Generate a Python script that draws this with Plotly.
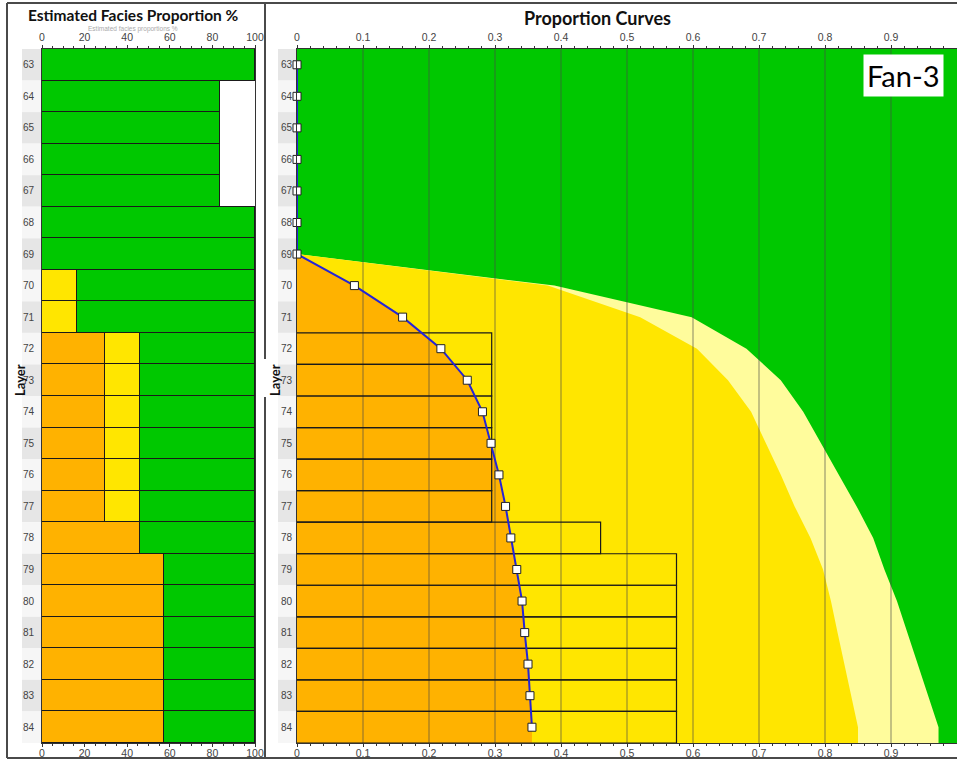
import plotly.graph_objects as go

W, H = 957, 761

# ---------------- data ----------------
layers = list(range(63, 85))
layer_labels = [str(l) for l in layers]

# Left panel: estimated facies proportion (%) per layer
est_orange = [0]*9 + [29.5]*6 + [46.0] + [57.5]*6
est_yellow = [0]*7 + [16.2, 16.2] + [16.4]*6 + [0] + [0]*6
est_green = [100] + [83.5]*4 + [100, 100] + [83.8, 83.8] + [54.1]*6 + [54.0] + [42.5]*6

# Right panel: proportion curves (cumulative fractions)
curve_orange = [0]*7 + [0.087, 0.160, 0.218, 0.258, 0.281, 0.294, 0.306, 0.316,
                        0.324, 0.333, 0.341, 0.345, 0.350, 0.353, 0.356]
curve_orange_yellow = [0]*7 + [0.38, 0.52, 0.606, 0.653, 0.688, 0.711, 0.733, 0.754,
                               0.778, 0.797, 0.809, 0.819, 0.829, 0.840, 0.850]
curve_orange_yellow_pale = [0]*7 + [0.39, 0.598, 0.681, 0.733, 0.767, 0.794, 0.821, 0.848,
                                    0.873, 0.890, 0.909, 0.925, 0.940, 0.956, 0.972]
curve_all = [1.0]*22

left_ticks = [0, 20, 40, 60, 80, 100]
right_ticks = [0, 0.1, 0.2, 0.3, 0.4, 0.5, 0.6, 0.7, 0.8, 0.9, 1]
grid_vals = [0.1, 0.2, 0.3, 0.4, 0.5, 0.6, 0.7, 0.8, 0.9]

# ---------------- style ----------------
C_GREEN = "#00C800"
C_ORANGE = "#FFB200"
C_YELLOW = "#FFE600"
C_PALE = "#FFFC9C"
TICKFONT = dict(family="Liberation Sans", size=10.5, color="#444")
LBLFONT = dict(family="Liberation Sans", size=10, color="#444")

y_lo, y_hi = layers[0] - 0.5, layers[-1] + 0.5

def px(x):
    return x / W

def py(y):
    return 1 - y / H

fig = go.Figure()

# ---------- left panel stacked bars ----------
def nz(v):
    return [a if a > 0 else None for a in v]

for vals, col in [(est_orange, C_ORANGE), (est_yellow, C_YELLOW), (est_green, C_GREEN)]:
    fig.add_trace(go.Bar(
        y=layers, x=nz(vals), orientation="h", width=1,
        marker=dict(color=col, line=dict(color="#1a1a1a", width=1.2)),
        xaxis="x", yaxis="y", showlegend=False, hoverinfo="skip"))

# dummy trace for top axis of left panel
fig.add_trace(go.Scatter(x=[50], y=[63], mode="markers", marker=dict(opacity=0),
                         xaxis="x3", yaxis="y", showlegend=False, hoverinfo="skip"))

# ---------- right panel filled areas ----------
for cum, col in [(curve_all, C_GREEN), (curve_orange_yellow_pale, C_PALE),
                 (curve_orange_yellow, C_YELLOW), (curve_orange, C_ORANGE)]:
    xs = [0, cum[0]] + cum + [cum[-1], 0]
    ys = [y_lo, y_lo] + layers + [y_hi, y_hi]
    fig.add_trace(go.Scatter(x=xs, y=ys, fill="toself", fillcolor=col, mode="lines",
                             line=dict(width=0, color=col), xaxis="x2", yaxis="y2",
                             showlegend=False, hoverinfo="skip"))

# gridlines over fills
gx, gy = [], []
for g in grid_vals:
    gx += [g, g, None]
    gy += [y_lo, y_hi, None]
fig.add_trace(go.Scatter(x=gx, y=gy, mode="lines", line=dict(color="rgba(70,70,70,0.65)", width=1),
                         xaxis="x2", yaxis="y2", showlegend=False, hoverinfo="skip"))

# outline boxes of estimated orange proportion
bx, by = [], []
for l, v in zip(layers, est_orange):
    if v > 0:
        f = v / 100
        bx += [0, f, f, 0, None]
        by += [l - 0.5, l - 0.5, l + 0.5, l + 0.5, None]
fig.add_trace(go.Scatter(x=bx, y=by, mode="lines", line=dict(color="#1a1a1a", width=1.2),
                         xaxis="x2", yaxis="y2", showlegend=False, hoverinfo="skip"))

# blue proportion curve
fig.add_trace(go.Scatter(x=curve_orange, y=layers, mode="lines+markers",
                         line=dict(color="#2424D8", width=2),
                         marker=dict(symbol="square", size=8, color="white",
                                     line=dict(color="#222", width=1)),
                         xaxis="x2", yaxis="y2", showlegend=False, hoverinfo="skip",
                         cliponaxis=False))

# dummy trace for top axis of right panel
fig.add_trace(go.Scatter(x=[0.5], y=[63], mode="markers", marker=dict(opacity=0),
                         xaxis="x4", yaxis="y2", showlegend=False, hoverinfo="skip"))

# ---------------- axes ----------------
xd1 = [px(42), px(255)]
xd2 = [px(297), 1.0]
yd = [py(743), py(49)]

common_x = dict(showgrid=False, zeroline=False, showline=True, linecolor="#333", linewidth=1,
                ticks="outside", ticklen=3, tickcolor="#333", tickfont=TICKFONT, fixedrange=True,
                automargin=False)

xa1 = dict(common_x, domain=xd1, range=[0, 100], anchor="y", tickvals=left_ticks,
           ticklabelstandoff=-3,
           minor=dict(dtick=5, ticks="outside", ticklen=2, tickcolor="#333"))
xa3 = dict(common_x, domain=xd1, range=[0, 100], anchor="y", overlaying="x", side="top",
           tickvals=left_ticks, minor=dict(dtick=5, ticks="outside", ticklen=2, tickcolor="#333"))
xa2 = dict(common_x, domain=xd2, range=[0, 1], anchor="y2", tickvals=right_ticks,
           ticktext=[("%g" % t) for t in right_ticks], ticklabelstandoff=-3,
           minor=dict(dtick=0.02, ticks="outside", ticklen=2, tickcolor="#333"))
xa4 = dict(common_x, domain=xd2, range=[0, 1], anchor="y2", overlaying="x2", side="top",
           tickvals=right_ticks, ticktext=[("%g" % t) for t in right_ticks],
           minor=dict(dtick=0.02, ticks="outside", ticklen=2, tickcolor="#333"))

ya1 = dict(domain=yd, range=[y_hi, y_lo], anchor="x", tickvals=layers, ticktext=layer_labels,
           ticks="", showgrid=False, zeroline=False, showline=True, mirror=True,
           linecolor="#333", linewidth=1, tickfont=LBLFONT, ticklabelstandoff=5, fixedrange=True,
           automargin=False)
ya2 = dict(domain=yd, range=[y_hi, y_lo], anchor="x2", tickvals=layers, ticktext=layer_labels,
           ticks="", showgrid=False, zeroline=False, showline=True,
           linecolor="#333", linewidth=1, tickfont=LBLFONT, ticklabelstandoff=2, fixedrange=True,
           automargin=False)

# ---------------- shapes (label backgrounds, frames) ----------------
shapes = []
for l in layers:
    col = "#E6E6E6" if l % 2 == 1 else "#F6F6F6"
    shapes.append(dict(type="rect", xref="paper", yref="y", x0=px(22), x1=px(42),
                       y0=l - 0.5, y1=l + 0.5, fillcolor=col, line=dict(width=0), layer="below"))
    shapes.append(dict(type="rect", xref="paper", yref="y2", x0=px(278), x1=px(297),
                       y0=l - 0.5, y1=l + 0.5, fillcolor=col, line=dict(width=0), layer="below"))

FR = dict(color="#4a4a4a", width=2)
for (x0, y0, x1, y1) in [(7, 3, 957, 3), (7, 3, 7, 758), (7, 758, 957, 758),
                         (265, 3, 265, 359), (265, 397, 265, 758)]:
    shapes.append(dict(type="line", xref="paper", yref="paper", x0=px(x0), y0=py(y0),
                       x1=px(x1), y1=py(y1), line=FR))

# ---------------- annotations ----------------
def ann(text, x, y, font, **kw):
    d = dict(text=text, x=px(x), y=py(y), xref="paper", yref="paper", showarrow=False,
             xanchor="center", yanchor="middle", font=font)
    d.update(kw)
    return d

annotations = [
    ann("Estimated facies proportions %", 133, 29,
        dict(family="Liberation Sans", size=6.5, color="#aaa")),
    ann("<b>Estimated Facies Proportion %</b>", 133, 15,
        dict(family="Lato", size=15.5, color="#111")),
    ann("<b>Proportion Curves</b>", 597, 18, dict(family="Lato", size=18, color="#111")),
    ann("<b>Layer</b>", 20, 380, dict(family="Lato", size=13, color="#111"), textangle=-90),
    ann("<b>Layer</b>", 275, 380, dict(family="Lato", size=13, color="#111"), textangle=-90),
    ann("Fan-3", 903, 76, dict(family="Lato", size=29, color="#000"), bgcolor="white", borderpad=3),
]

fig.update_layout(
    width=W, height=H, margin=dict(l=0, r=0, t=0, b=0, autoexpand=False),
    paper_bgcolor="white", plot_bgcolor="white",
    barmode="stack", bargap=0, showlegend=False,
    xaxis=xa1, xaxis2=xa2, xaxis3=xa3, xaxis4=xa4,
    yaxis=ya1, yaxis2=ya2,
    shapes=shapes, annotations=annotations,
)

fig.write_html("out.html")
